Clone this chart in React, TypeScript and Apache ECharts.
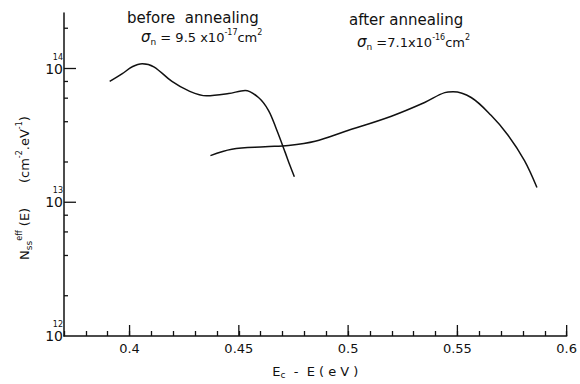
import React, { useEffect, useRef } from 'react';
import * as echarts from 'echarts';

// Curve "before annealing"
const beforeE = [0.3909, 0.3965, 0.4012, 0.4058, 0.4111, 0.4194, 0.4271, 0.4352, 0.4453, 0.4529, 0.459, 0.4636, 0.4673, 0.4712, 0.4734, 0.4754];
const beforeN = [8.0e13, 9.1e13, 1.03e14, 1.087e14, 1.03e14, 8.0e13, 6.8e13, 6.25e13, 6.49e13, 6.85e13, 6.07e13, 4.85e13, 3.48e13, 2.36e13, 1.88e13, 1.55e13];

// Curve "after annealing"
const afterE = [0.437, 0.4468, 0.462, 0.4727, 0.4849, 0.4985, 0.5198, 0.535, 0.5442, 0.548, 0.5563, 0.5654, 0.573, 0.5807, 0.5864];
const afterN = [2.23e13, 2.49e13, 2.6e13, 2.66e13, 2.86e13, 3.38e13, 4.4e13, 5.57e13, 6.6e13, 6.7e13, 6.07e13, 4.47e13, 3.2e13, 2.05e13, 1.29e13];

// Axes
const xMin = 0.37;
const xMax = 0.6;
const yMin = 1e12;
const yMax = 2.6e14;
const xMajorTicks = [0.4, 0.45, 0.5, 0.55, 0.6];
const yMajorTicks = [1e13, 1e14];
const yMinorTicks = [2e12, 4e12, 6e12, 8e12, 2e13, 4e13, 6e13, 8e13, 2e14];

const FONT = 'DejaVu Sans';

export default function App() {
  const ref = useRef<HTMLDivElement>(null);
  useEffect(() => {
    if (!ref.current) return;
    const chart = echarts.init(ref.current, null, { renderer: 'svg' });
    const tickStyle = { stroke: '#111', lineWidth: 1.3 };
    const supRich = {
      g: { fontFamily: FONT, fontSize: 15, fontStyle: 'italic', fill: '#111', lineHeight: 18 },
      m: { fontFamily: FONT, fontSize: 13, fill: '#111', lineHeight: 18 },
      sb: { fontFamily: FONT, fontSize: 9, fill: '#111', lineHeight: 10, verticalAlign: 'bottom' },
      sp: { fontFamily: FONT, fontSize: 8, fill: '#111', lineHeight: 9, verticalAlign: 'top' },
    };
    const option: any = {
      animation: false,
      backgroundColor: '#fff',
      grid: { left: 64, right: 10, top: 13, bottom: 38, containLabel: false },
      xAxis: {
        type: 'value',
        min: xMin,
        max: xMax,
        interval: 0.01,
        splitLine: { show: false },
        axisLine: { lineStyle: { color: '#111', width: 1.5 } },
        axisTick: { inside: true, length: 5, lineStyle: { color: '#111', width: 1.3 } },
        axisLabel: {
          margin: 6,
          color: '#111',
          fontFamily: FONT,
          fontSize: 13,
          hideOverlap: false,
          formatter: (v: number) => {
            const r = Math.round(v * 100);
            return r % 5 === 0 ? String(+(r / 100).toFixed(2)) : '';
          },
        },
        name: '{m|E}{sb|c}{m|  -  E ( e V )}',
        nameLocation: 'middle',
        nameGap: 27,
        nameTextStyle: {
          rich: {
            m: { fontFamily: FONT, fontSize: 13, color: '#111', lineHeight: 16 },
            sb: { fontFamily: FONT, fontSize: 9, color: '#111', lineHeight: 10, verticalAlign: 'bottom' },
          },
        },
      },
      yAxis: {
        type: 'log',
        logBase: 10,
        min: yMin,
        max: yMax,
        splitLine: { show: false },
        axisLine: { lineStyle: { color: '#111', width: 1.5 } },
        axisTick: { show: false },
        axisLabel: {
          margin: 1,
          showMaxLabel: false,
          padding: [0, 0, 9, 0],
          formatter: (v: number) => {
            const l = Math.log10(v);
            const e = Math.round(l);
            if (Math.abs(l - e) > 0.01) return '';
            return `{s|${e}}\n{b|10}`;
          },
          rich: {
            s: { fontFamily: FONT, fontSize: 8, color: '#111', lineHeight: 9, align: 'right' },
            b: { fontFamily: FONT, fontSize: 14, color: '#111', lineHeight: 14, align: 'right' },
          },
        },
      },
      graphic: [
        {
          type: 'text',
          left: 127,
          top: 10,
          style: { text: 'before  annealing', font: `15px "${FONT}"`, fill: '#111' },
        },
        {
          type: 'text',
          left: 141,
          top: 28,
          style: { text: '{g|σ}{sb|n}{m| = 9.5 x10}{sp|-17}{m|cm}{sp|2}', rich: supRich },
        },
        {
          type: 'text',
          left: 349,
          top: 12,
          style: { text: 'after annealing', font: `15px "${FONT}"`, fill: '#111' },
        },
        {
          type: 'text',
          left: 357,
          top: 33,
          style: { text: '{g|σ}{sb|n}{m| =7.1x10}{sp|-16}{m|cm}{sp|2}', rich: supRich },
        },
        {
          type: 'text',
          x: 24,
          y: 188,
          rotation: Math.PI / 2,
          style: {
            text: '{m|N}{sb|ss}{sp|eff}{m| (E)      (cm}{sp|-2}{m|.eV}{sp|-1}{m|)}',
            align: 'center',
            verticalAlign: 'middle',
            rich: supRich,
          },
        },
      ],
      series: [
        {
          type: 'line',
          data: beforeE.map((e, i) => [e, beforeN[i]]),
          smooth: 0.35,
          showSymbol: false,
          symbol: 'none',
          lineStyle: { color: '#111', width: 1.5 },
        },
        {
          type: 'line',
          data: afterE.map((e, i) => [e, afterN[i]]),
          smooth: 0.35,
          showSymbol: false,
          symbol: 'none',
          lineStyle: { color: '#111', width: 1.5 },
        },
        {
          type: 'custom',
          silent: true,
          data: xMajorTicks.map((v) => [v, yMin]),
          renderItem: (params: any, api: any) => {
            const p = api.coord([api.value(0), api.value(1)]);
            return { type: 'line', shape: { x1: p[0], y1: p[1], x2: p[0], y2: p[1] - 11 }, style: tickStyle };
          },
        },
        {
          type: 'custom',
          silent: true,
          data: yMajorTicks.map((v) => [xMin, v]),
          renderItem: (params: any, api: any) => {
            const p = api.coord([api.value(0), api.value(1)]);
            return { type: 'line', shape: { x1: p[0], y1: p[1], x2: p[0] + 12, y2: p[1] }, style: tickStyle };
          },
        },
        {
          type: 'custom',
          silent: true,
          data: yMinorTicks.map((v) => [xMin, v]),
          renderItem: (params: any, api: any) => {
            const p = api.coord([api.value(0), api.value(1)]);
            return { type: 'line', shape: { x1: p[0], y1: p[1], x2: p[0] + 4, y2: p[1] }, style: tickStyle };
          },
        },
      ],
    };
    chart.setOption(option);
    return () => chart.dispose();
  }, []);
  return <div ref={ref} style={{ position: 'absolute', left: 0, top: 0, width: 580, height: 384 }} />;
}
